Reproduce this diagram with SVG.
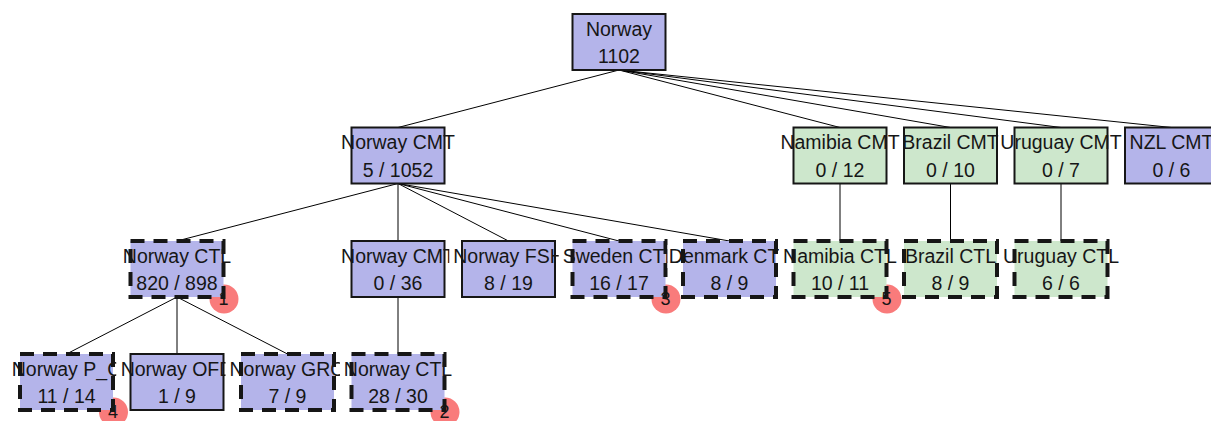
<svg xmlns="http://www.w3.org/2000/svg" width="1211" height="421" viewBox="0 0 1211 421">
  <style>
    .box{stroke:#161616;stroke-width:2}
    .lav{fill:#b4b4ea}
    .grn{fill:#cde7cc}
    .dash{stroke-width:4;stroke-dasharray:14 9}
    .halo{fill:#ffffff}
    .badge{fill:#f97b7b}
    text{font-family:"Liberation Sans",Arial,sans-serif;font-size:19.5px;fill:#161616;text-anchor:middle}
    .num{font-size:18px}
    .edges line{stroke:#000;stroke-width:1}
  </style>

  <!-- connectors: parent bottom centre to child top centre -->
  <g class="edges">
    <line x1="619" y1="70" x2="398" y2="127.5"/>
    <line x1="619" y1="70" x2="840" y2="127.5"/>
    <line x1="619" y1="70" x2="950.5" y2="127.5"/>
    <line x1="619" y1="70" x2="1061" y2="127.5"/>
    <line x1="619" y1="70" x2="1171.5" y2="127.5"/>
    <line x1="398" y1="183.5" x2="177" y2="241"/>
    <line x1="398" y1="183.5" x2="398" y2="241"/>
    <line x1="398" y1="183.5" x2="508.5" y2="241"/>
    <line x1="398" y1="183.5" x2="619" y2="241"/>
    <line x1="398" y1="183.5" x2="729.5" y2="241"/>
    <line x1="840" y1="183.5" x2="840" y2="241"/>
    <line x1="950.5" y1="183.5" x2="950.5" y2="241"/>
    <line x1="1061" y1="183.5" x2="1061" y2="241"/>
    <line x1="177" y1="297" x2="66.5" y2="354"/>
    <line x1="177" y1="297" x2="177" y2="354"/>
    <line x1="177" y1="297" x2="287.5" y2="354"/>
    <line x1="398" y1="297" x2="398" y2="354"/>
  </g>

  <!-- row 1 -->
  <g id="norway">
    <rect class="box lav" x="572.5" y="14" width="93" height="56"/>
    <text x="619" y="35.5">Norway</text>
    <text x="619" y="63">1102</text>
  </g>

  <!-- row 2 -->
  <g id="norway-cmt">
    <rect class="halo" x="337" y="131.5" width="120" height="23"/>
    <rect class="box lav" x="351.5" y="127.5" width="93" height="56"/>
    <text x="398" y="149">Norway CMT</text>
    <text x="398" y="176.5">5 / 1052</text>
  </g>
  <g id="namibia-cmt">
    <rect class="halo" x="776.4" y="131.5" width="125" height="23"/>
    <rect class="box grn" x="793.5" y="127.5" width="93" height="56"/>
    <text x="840" y="149">Namibia CMT</text>
    <text x="840" y="176.5">0 / 12</text>
  </g>
  <g id="brazil-cmt">
    <rect class="halo" x="900.3" y="131.5" width="100.4" height="23"/>
    <rect class="box grn" x="904" y="127.5" width="93" height="56"/>
    <text x="950.5" y="149">Brazil CMT</text>
    <text x="950.5" y="176.5">0 / 10</text>
  </g>
  <g id="uruguay-cmt">
    <rect class="halo" x="998.5" y="131.5" width="125" height="23"/>
    <rect class="box grn" x="1014.5" y="127.5" width="93" height="56"/>
    <text x="1061" y="149">Uruguay CMT</text>
    <text x="1061" y="176.5">0 / 7</text>
  </g>
  <g id="nzl-cmt">
    <rect class="halo" x="1125.3" y="131.5" width="90" height="23"/>
    <rect class="box lav" x="1125" y="127.5" width="93" height="56"/>
    <text x="1171.5" y="149">NZL CMT</text>
    <text x="1171.5" y="176.5">0 / 6</text>
  </g>

  <!-- row 3 -->
  <g id="norway-ctl">
    <rect class="halo" x="119" y="245" width="114" height="23"/>
    <circle class="badge" cx="224" cy="299" r="14.5"/>
    <rect class="box lav dash" x="130.5" y="241" width="93" height="56"/>
    <text x="177" y="262.5">Norway CTL</text>
    <text x="177" y="290">820 / 898</text>
    <text class="num" x="223.5" y="305">1</text>
  </g>
  <g id="norway-cmt-2">
    <rect class="halo" x="337" y="245" width="120" height="23"/>
    <rect class="box lav" x="351.5" y="241" width="93" height="56"/>
    <text x="398" y="262.5">Norway CMT</text>
    <text x="398" y="290">0 / 36</text>
  </g>
  <g id="norway-fsh">
    <rect class="halo" x="449.3" y="245" width="116.5" height="23"/>
    <rect class="box lav" x="462" y="241" width="93" height="56"/>
    <text x="508.5" y="262.5">Norway FSH</text>
    <text x="508.5" y="290">8 / 19</text>
  </g>
  <g id="sweden-ctl">
    <rect class="halo" x="558.7" y="245" width="118.7" height="23"/>
    <circle class="badge" cx="666" cy="299" r="14.5"/>
    <rect class="box lav dash" x="572.5" y="241" width="93" height="56"/>
    <text x="619" y="262.5">Sweden CTL</text>
    <text x="619" y="290">16 / 17</text>
    <text class="num" x="665.5" y="305">3</text>
  </g>
  <g id="denmark-ctl">
    <rect class="halo" x="667.5" y="245" width="124.7" height="23"/>
    <rect class="box lav dash" x="683" y="241" width="93" height="56"/>
    <text x="729.5" y="262.5">Denmark CTL</text>
    <text x="729.5" y="290">8 / 9</text>
  </g>
  <g id="namibia-ctl">
    <rect class="halo" x="779.1" y="245" width="119.8" height="23"/>
    <circle class="badge" cx="887" cy="299" r="14.5"/>
    <rect class="box grn dash" x="793.5" y="241" width="93" height="56"/>
    <text x="840" y="262.5">Namibia CTL</text>
    <text x="840" y="290">10 / 11</text>
    <text class="num" x="886.5" y="305">5</text>
  </g>
  <g id="brazil-ctl">
    <rect class="halo" x="901" y="245" width="97" height="23"/>
    <rect class="box grn dash" x="904" y="241" width="93" height="56"/>
    <text x="950.5" y="262.5">Brazil CTL</text>
    <text x="950.5" y="290">8 / 9</text>
  </g>
  <g id="uruguay-ctl">
    <rect class="halo" x="999" y="245" width="122" height="23"/>
    <rect class="box grn dash" x="1014.5" y="241" width="93" height="56"/>
    <text x="1061" y="262.5">Uruguay CTL</text>
    <text x="1061" y="290">6 / 6</text>
  </g>

  <!-- row 4 -->
  <g id="norway-p_c">
    <rect class="halo" x="8" y="358" width="115" height="23"/>
    <circle class="badge" cx="113.5" cy="412" r="14.5"/>
    <rect class="box lav dash" x="20" y="354" width="93" height="56"/>
    <text x="66.5" y="375.5">Norway P_C</text>
    <text x="66.5" y="403">11 / 14</text>
    <text class="num" x="113" y="418">4</text>
  </g>
  <g id="norway-ofd">
    <rect class="halo" x="116.2" y="358" width="118.6" height="23"/>
    <rect class="box lav" x="130.5" y="354" width="93" height="56"/>
    <text x="177" y="375.5">Norway OFD</text>
    <text x="177" y="403">1 / 9</text>
  </g>
  <g id="norway-gro">
    <rect class="halo" x="225.5" y="358" width="122" height="23"/>
    <rect class="box lav dash" x="241" y="354" width="93" height="56"/>
    <text x="287.5" y="375.5">Norway GRO</text>
    <text x="287.5" y="403">7 / 9</text>
  </g>
  <g id="norway-ctl-2">
    <rect class="halo" x="339.9" y="358" width="114.3" height="23"/>
    <circle class="badge" cx="445" cy="412" r="14.5"/>
    <rect class="box lav dash" x="351.5" y="354" width="93" height="56"/>
    <text x="398" y="375.5">Norway CTL</text>
    <text x="398" y="403">28 / 30</text>
    <text class="num" x="444.5" y="418">2</text>
  </g>
</svg>
